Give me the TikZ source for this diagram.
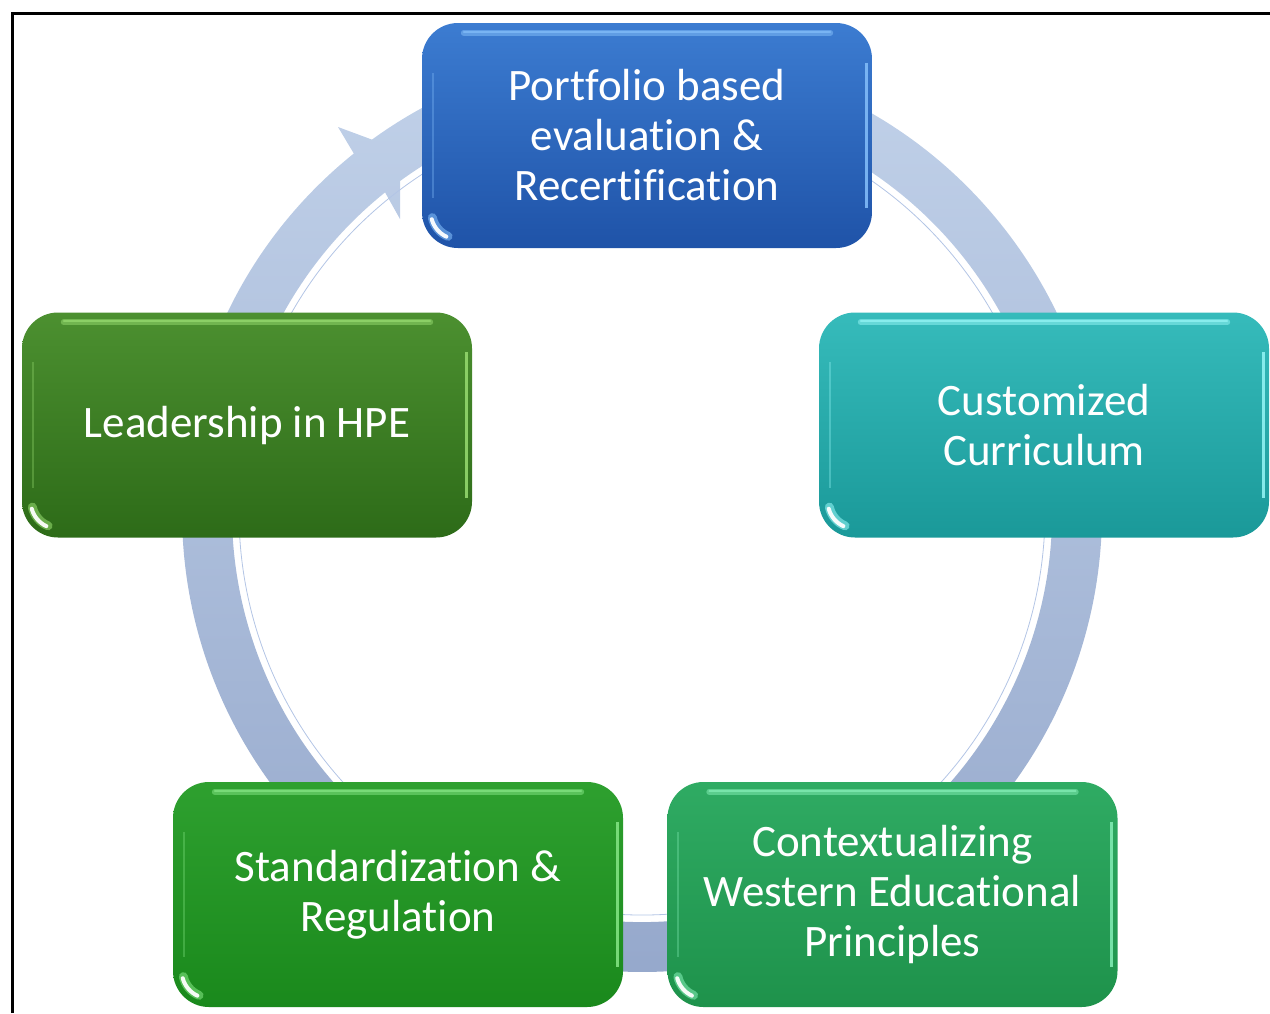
\documentclass[tikz,border=0pt]{standalone}
\usepackage{fontspec}
\setmainfont{Carlito}[Ligatures={NoCommon}]
\usetikzlibrary{calc}

\definecolor{ringtop}{HTML}{C4D4EB}
\definecolor{ringbot}{HTML}{93A6CA}
\definecolor{ringline}{HTML}{B3C5E5}
\definecolor{blueA}{HTML}{3C7CD1}
\definecolor{blueB}{HTML}{1F53A8}
\definecolor{blueHL}{HTML}{80BAF7}
\definecolor{tealA}{HTML}{36BBBB}
\definecolor{tealB}{HTML}{1A9999}
\definecolor{tealHL}{HTML}{90F2F2}
\definecolor{leafA}{HTML}{4C9030}
\definecolor{leafB}{HTML}{2D6B18}
\definecolor{leafHL}{HTML}{92D66C}
\definecolor{grassA}{HTML}{2EA02F}
\definecolor{grassB}{HTML}{1A891C}
\definecolor{grassHL}{HTML}{80E280}
\definecolor{mintA}{HTML}{2FAB63}
\definecolor{mintB}{HTML}{1E924B}
\definecolor{mintHL}{HTML}{80EAB2}

\newcommand\stagefont{\fontsize{45}{50}\selectfont}

% glossy bevel highlights on a stage box
\newcommand\boxgloss[2]{%
  \draw[#2, line width=6pt, line cap=round, opacity=.55]
    ($(#1.north west)+(42,-10)$) -- ($(#1.north east)+(-42,-10)$);
  \draw[#2, line width=2pt, line cap=round, opacity=.8]
    ($(#1.north west)+(42,-9)$) -- ($(#1.north east)+(-42,-9)$);
  \draw[#2, line width=2pt, opacity=.35]
    ($(#1.north west)+(11,-50)$) -- ($(#1.south west)+(11,50)$);
  \draw[#2, line width=3pt, opacity=.9]
    ($(#1.north east)+(-6,-40)$) -- ($(#1.south east)+(-6,40)$);
  \draw[#2, line width=9pt, line cap=round, opacity=.6]
    ($(#1.south west)+(36,36)+(192:26)$) arc[start angle=192, end angle=248, radius=26];
  \draw[white, line width=4pt, line cap=round, opacity=.95]
    ($(#1.south west)+(36,36)+(195:27)$) arc[start angle=195, end angle=245, radius=27];
}

\tikzset{
  stage/.style={rounded corners=36pt, minimum width=450pt, minimum height=225pt,
    inner sep=0pt, text=white, align=center, font=\stagefont},
}

\begin{document}
\begin{tikzpicture}[x=1pt, y=1pt]
\useasboundingbox (0,0) rectangle (1270,-1013);

% frame lines
\draw[line width=3pt] (12,-1013) -- (12,-13) -- (1270,-13);

% circular arrow behind the stages (centre 642,-512)
\path[top color=ringtop, bottom color=ringbot]
  (353.8,-153.5) arc[start angle=128.8, end angle=-298, radius=460]
  -- (834.5,-150) arc[start angle=-298, end angle=128.8, radius=410]
  -- (400,-219) -- (400,-150) -- (338,-127) -- cycle;
\draw[ringline, line width=0.8pt]
  (642,-512) ++(128:403) arc[start angle=128, end angle=-298, radius=403];

% stages
\node[stage, top color=blueA, bottom color=blueB] (port) at (647,-135.5)
  {Portfolio based\\evaluation \&\\Recertification};
\node[stage, top color=tealA, bottom color=tealB] (curr) at (1044,-425)
  {Customized\\Curriculum};
\node[stage, top color=mintA, bottom color=mintB] (ctx) at (892.5,-894.5)
  {Contextualizing\\Western Educational\\Principles};
\node[stage, top color=grassA, bottom color=grassB] (std) at (398,-894.5)
  {Standardization \&\\Regulation};
\node[stage, top color=leafA, bottom color=leafB] (lead) at (247,-425)
  {Leadership in HPE};

\boxgloss{port}{blueHL}
\boxgloss{curr}{tealHL}
\boxgloss{ctx}{mintHL}
\boxgloss{std}{grassHL}
\boxgloss{lead}{leafHL}

\end{tikzpicture}
\end{document}
